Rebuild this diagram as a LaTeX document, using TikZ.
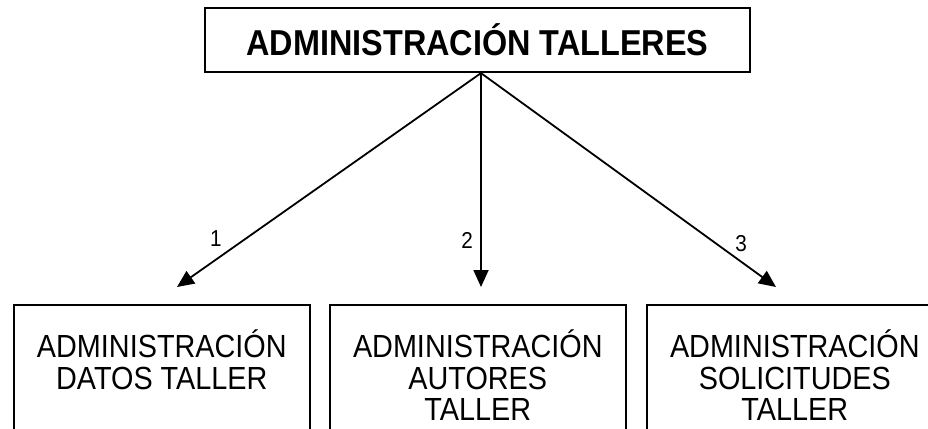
\documentclass[tikz,border=0pt]{standalone}
\usepackage{fontspec}
\setmainfont{Liberation Sans}
\newfontfamily\toptall{Liberation Sans}[FakeStretch=0.9]
\newfontfamily\subtall{Liberation Sans}[FakeStretch=0.9]
\usetikzlibrary{arrows.meta}
\begin{document}
\begin{tikzpicture}[x=1pt,y=-1pt,
  topbox/.style={draw, line width=2.2pt, minimum width=545pt, minimum height=64pt, inner sep=0pt,
    font=\toptall\fontsize{36}{40}\selectfont\bfseries},
  subbox/.style={draw, line width=1.6pt, minimum width=296pt, minimum height=160pt, inner sep=0pt, anchor=north west},
  subtext/.style={anchor=north, align=center, inner sep=0pt, font=\subtall\fontsize{32}{31.5}\selectfont},
  numlabel/.style={inner sep=0pt, font=\subtall\fontsize{23}{26}\selectfont},
  conn/.style={line width=1.8pt, -{Triangle[length=17pt,width=15pt]}}]
\clip (0,0) rectangle (928,428);
\fill[white] (0,0) rectangle (928,428);
\node[topbox] (top) at (477.5,40) {ADMINISTRACIÓN TALLERES};
\node[subbox] (b1) at (13,304) {};
\node[subbox] (b2) at (329,304) {};
\node[subbox] (b3) at (646,304) {};
\node[subtext] (t1) at ([yshift=-26pt]b1.north) {ADMINISTRACIÓN\\DATOS TALLER};
\node[subtext] (t2) at ([yshift=-26pt]b2.north) {ADMINISTRACIÓN\\AUTORES\\TALLER};
\node[subtext] (t3) at ([yshift=-26pt]b3.north) {ADMINISTRACIÓN\\SOLICITUDES\\TALLER};
\coordinate (o) at ([xshift=3.5pt]top.south);
\coordinate (e1) at (177,287);
\coordinate (e2) at (481,287);
\coordinate (e3) at (776,287);
\draw[conn] (o) -- (e1);
\draw[conn] (o) -- (e2);
\draw[conn] (o) -- (e3);
\node[numlabel] (n1) at (216,239) {1};
\node[numlabel] (n2) at (467,240) {2};
\node[numlabel] (n3) at (741,244) {3};
\end{tikzpicture}
\end{document}
